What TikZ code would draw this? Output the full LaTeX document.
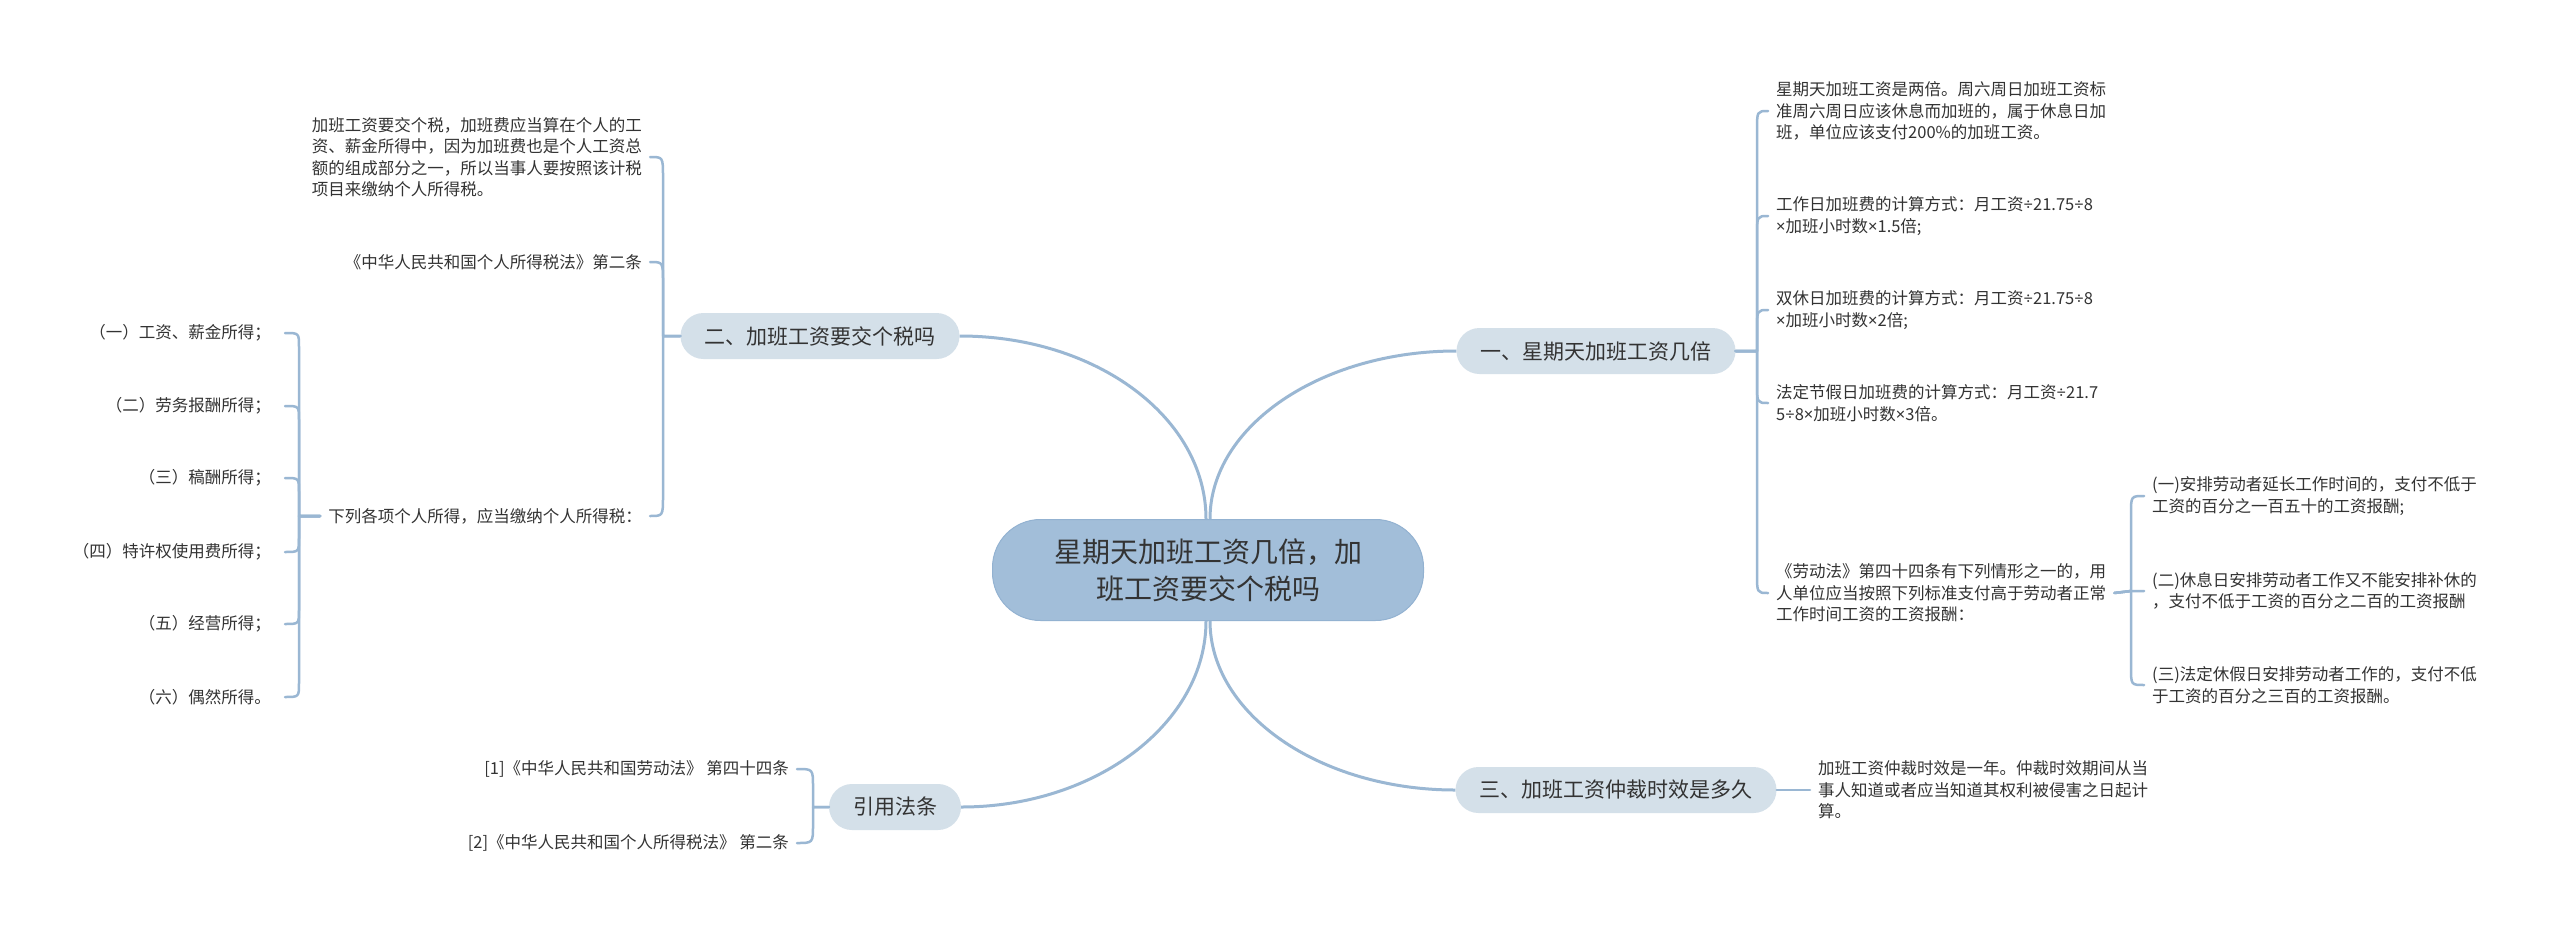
\documentclass[tikz,border=0pt]{standalone}
\usepackage{fontspec}
\setmainfont{Noto Sans CJK SC}
\newfontfamily\latf{Noto Sans}
\newcommand{\mulx}{{\latf ×}}
\newcommand{\divx}{{\latf ÷}}
\usetikzlibrary{calc}
\definecolor{linec}{HTML}{9AB7D3}
\definecolor{rootc}{HTML}{A2BED9}
\definecolor{rootb}{HTML}{93B2D1}
\definecolor{branchc}{HTML}{D4E0E9}
\definecolor{txt}{HTML}{333333}
\begin{document}
\begin{tikzpicture}[x=1pt,y=-1pt,
  root/.style={rounded corners=48pt, fill=rootc, draw=rootb, line width=1pt, minimum width=431pt, minimum height=101pt, align=center, font=\fontsize{28}{37}\selectfont, text=txt, inner sep=0pt},
  branch/.style={rounded corners=23pt, fill=branchc, minimum height=46pt, inner xsep=24pt, inner ysep=0pt, font=\fontsize{21}{26}\selectfont, text=txt},
  leaf/.style={font=\fontsize{16.5}{21.5}\selectfont, text=txt, align=left, inner xsep=8pt, inner ysep=0pt},
  main/.style={draw=linec, line width=3pt},
  conn/.style={draw=linec, line width=2.5pt, line cap=round, line join=round},
]
\useasboundingbox (0,0) rectangle (2560,932);
\fill[white] (0,0) rectangle (2560,932);

% root and branches
\node[root] (c) at (1208,570) {星期天加班工资几倍，加\\班工资要交个税吗};
\node[branch] (n2) at (820,336) {二、加班工资要交个税吗};
\node[branch] (n1) at (1596,351) {一、星期天加班工资几倍};
\node[branch] (n3) at (1616,790) {三、加班工资仲裁时效是多久};
\node[branch] (n4) at (895,807) {引用法条};

% main curves
\draw[main] ($(c.north)+(-2,0)$) .. controls (1206,418) and (1097,336) .. (n2.east);
\draw[main] ($(c.north)+(2,0)$) .. controls (1210,426) and (1321,351) .. (n1.west);
\draw[main] ($(c.south)+(-2,0)$) .. controls (1206,723) and (1096,807) .. (n4.east);
\draw[main] ($(c.south)+(2,0)$) .. controls (1210,714) and (1320,790) .. (n3.west);

% ---- left group (二)
\node[leaf, anchor=east] (L1) at (650,157) {加班工资要交个税，加班费应当算在个人的工\\资、薪金所得中，因为加班费也是个人工资总\\额的组成部分之一，所以当事人要按照该计税\\项目来缴纳个人所得税。};
\node[leaf, anchor=east] (L2) at (650,262) {《中华人民共和国个人所得税法》第二条};
\node[leaf, anchor=east] (L3) at (650,516) {下列各项个人所得，应当缴纳个人所得税：};
\coordinate (v2) at (663,336);
\draw[conn] (n2.west) -- (v2) -- ($(v2|-L1.east)+(0,20)$) .. controls (v2|-L1.east) .. (L1.east);
\draw[conn] (n2.west) -- (v2) -- ($(v2|-L2.east)+(0,20)$) .. controls (v2|-L2.east) .. (L2.east);
\draw[conn] (n2.west) -- (v2) -- ($(v2|-L3.east)+(0,-20)$) .. controls (v2|-L3.east) .. (L3.east);

\node[leaf, anchor=east, inner xsep=14pt] (I1) at (285,333) {（一）工资、薪金所得；};
\node[leaf, anchor=east, inner xsep=14pt] (I2) at (285,406) {（二）劳务报酬所得；};
\node[leaf, anchor=east, inner xsep=14pt] (I3) at (285,478) {（三）稿酬所得；};
\node[leaf, anchor=east, inner xsep=14pt] (I4) at (285,552) {（四）特许权使用费所得；};
\node[leaf, anchor=east, inner xsep=14pt] (I5) at (285,624) {（五）经营所得；};
\node[leaf, anchor=east, inner xsep=14pt] (I6) at (285,697) {（六）偶然所得。};
\coordinate (v3) at (299,516);
\draw[conn] (L3.west) -- (v3) -- ($(v3|-I1.east)+(0,14)$) .. controls (v3|-I1.east) .. (I1.east);
\draw[conn] (L3.west) -- (v3) -- ($(v3|-I2.east)+(0,14)$) .. controls (v3|-I2.east) .. (I2.east);
\draw[conn] (L3.west) -- (v3) -- ($(v3|-I3.east)+(0,14)$) .. controls (v3|-I3.east) .. (I3.east);
\draw[conn] (L3.west) -- (v3) -- ($(v3|-I4.east)+(0,-14)$) .. controls (v3|-I4.east) .. (I4.east);
\draw[conn] (L3.west) -- (v3) -- ($(v3|-I5.east)+(0,-14)$) .. controls (v3|-I5.east) .. (I5.east);
\draw[conn] (L3.west) -- (v3) -- ($(v3|-I6.east)+(0,-14)$) .. controls (v3|-I6.east) .. (I6.east);

% ---- 引用法条
\node[leaf, anchor=east] (C1) at (797,769) {[1]《中华人民共和国劳动法》 第四十四条};
\node[leaf, anchor=east] (C2) at (797,843) {[2]《中华人民共和国个人所得税法》 第二条};
\coordinate (v4) at (813,807);
\draw[conn] (n4.west) -- (v4) -- ($(v4|-C1.east)+(0,18)$) .. controls (v4|-C1.east) .. (C1.east);
\draw[conn] (n4.west) -- (v4) -- ($(v4|-C2.east)+(0,-18)$) .. controls (v4|-C2.east) .. (C2.east);

% ---- right group (一)
\node[leaf, anchor=west] (R1) at (1768,111) {星期天加班工资是两倍。周六周日加班工资标\\准周六周日应该休息而加班的，属于休息日加\\班，单位应该支付200\%的加班工资。};
\node[leaf, anchor=west] (R2) at (1768,216) {工作日加班费的计算方式：月工资\divx 21.75\divx 8\\\mulx 加班小时数\mulx 1.5倍;};
\node[leaf, anchor=west] (R3) at (1768,310) {双休日加班费的计算方式：月工资\divx 21.75\divx 8\\\mulx 加班小时数\mulx 2倍;};
\node[leaf, anchor=west] (R4) at (1768,403) {法定节假日加班费的计算方式：月工资\divx 21.7\\5\divx 8\mulx 加班小时数\mulx 3倍。};
\node[leaf, anchor=west] (R5) at (1768,593) {《劳动法》第四十四条有下列情形之一的，用\\人单位应当按照下列标准支付高于劳动者正常\\工作时间工资的工资报酬：};
\coordinate (v1) at (1757,351);
\draw[conn] (n1.east) -- (v1) -- ($(v1|-R1.west)+(0,20)$) .. controls (v1|-R1.west) .. (R1.west);
\draw[conn] (n1.east) -- (v1) -- ($(v1|-R2.west)+(0,20)$) .. controls (v1|-R2.west) .. (R2.west);
\draw[conn] (n1.east) -- (v1) -- ($(v1|-R3.west)+(0,20)$) .. controls (v1|-R3.west) .. (R3.west);
\draw[conn] (n1.east) -- (v1) -- ($(v1|-R4.west)+(0,-20)$) .. controls (v1|-R4.west) .. (R4.west);
\draw[conn] (n1.east) -- (v1) -- ($(v1|-R5.west)+(0,-20)$) .. controls (v1|-R5.west) .. (R5.west);

\node[leaf, anchor=west] (S1) at (2144,496) {(一)安排劳动者延长工作时间的，支付不低于\\工资的百分之一百五十的工资报酬;};
\node[leaf, anchor=west] (S2) at (2144,591) {(二)休息日安排劳动者工作又不能安排补休的\\，支付不低于工资的百分之二百的工资报酬};
\node[leaf, anchor=west] (S3) at (2144,685) {(三)法定休假日安排劳动者工作的，支付不低\\于工资的百分之三百的工资报酬。};
\coordinate (v5) at (2131,591);
\draw[conn] (R5.east) -- (v5) -- ($(v5|-S1.west)+(0,18)$) .. controls (v5|-S1.west) .. (S1.west);
\draw[conn] (R5.east) -- (v5) -- (S2.west);
\draw[conn] (R5.east) -- (v5) -- ($(v5|-S3.west)+(0,-18)$) .. controls (v5|-S3.west) .. (S3.west);

% ---- 三
\node[leaf, anchor=west] (T) at (1810,790) {加班工资仲裁时效是一年。仲裁时效期间从当\\事人知道或者应当知道其权利被侵害之日起计\\算。};
\draw[conn] (n3.east) -- (T.west);
\end{tikzpicture}
\end{document}
